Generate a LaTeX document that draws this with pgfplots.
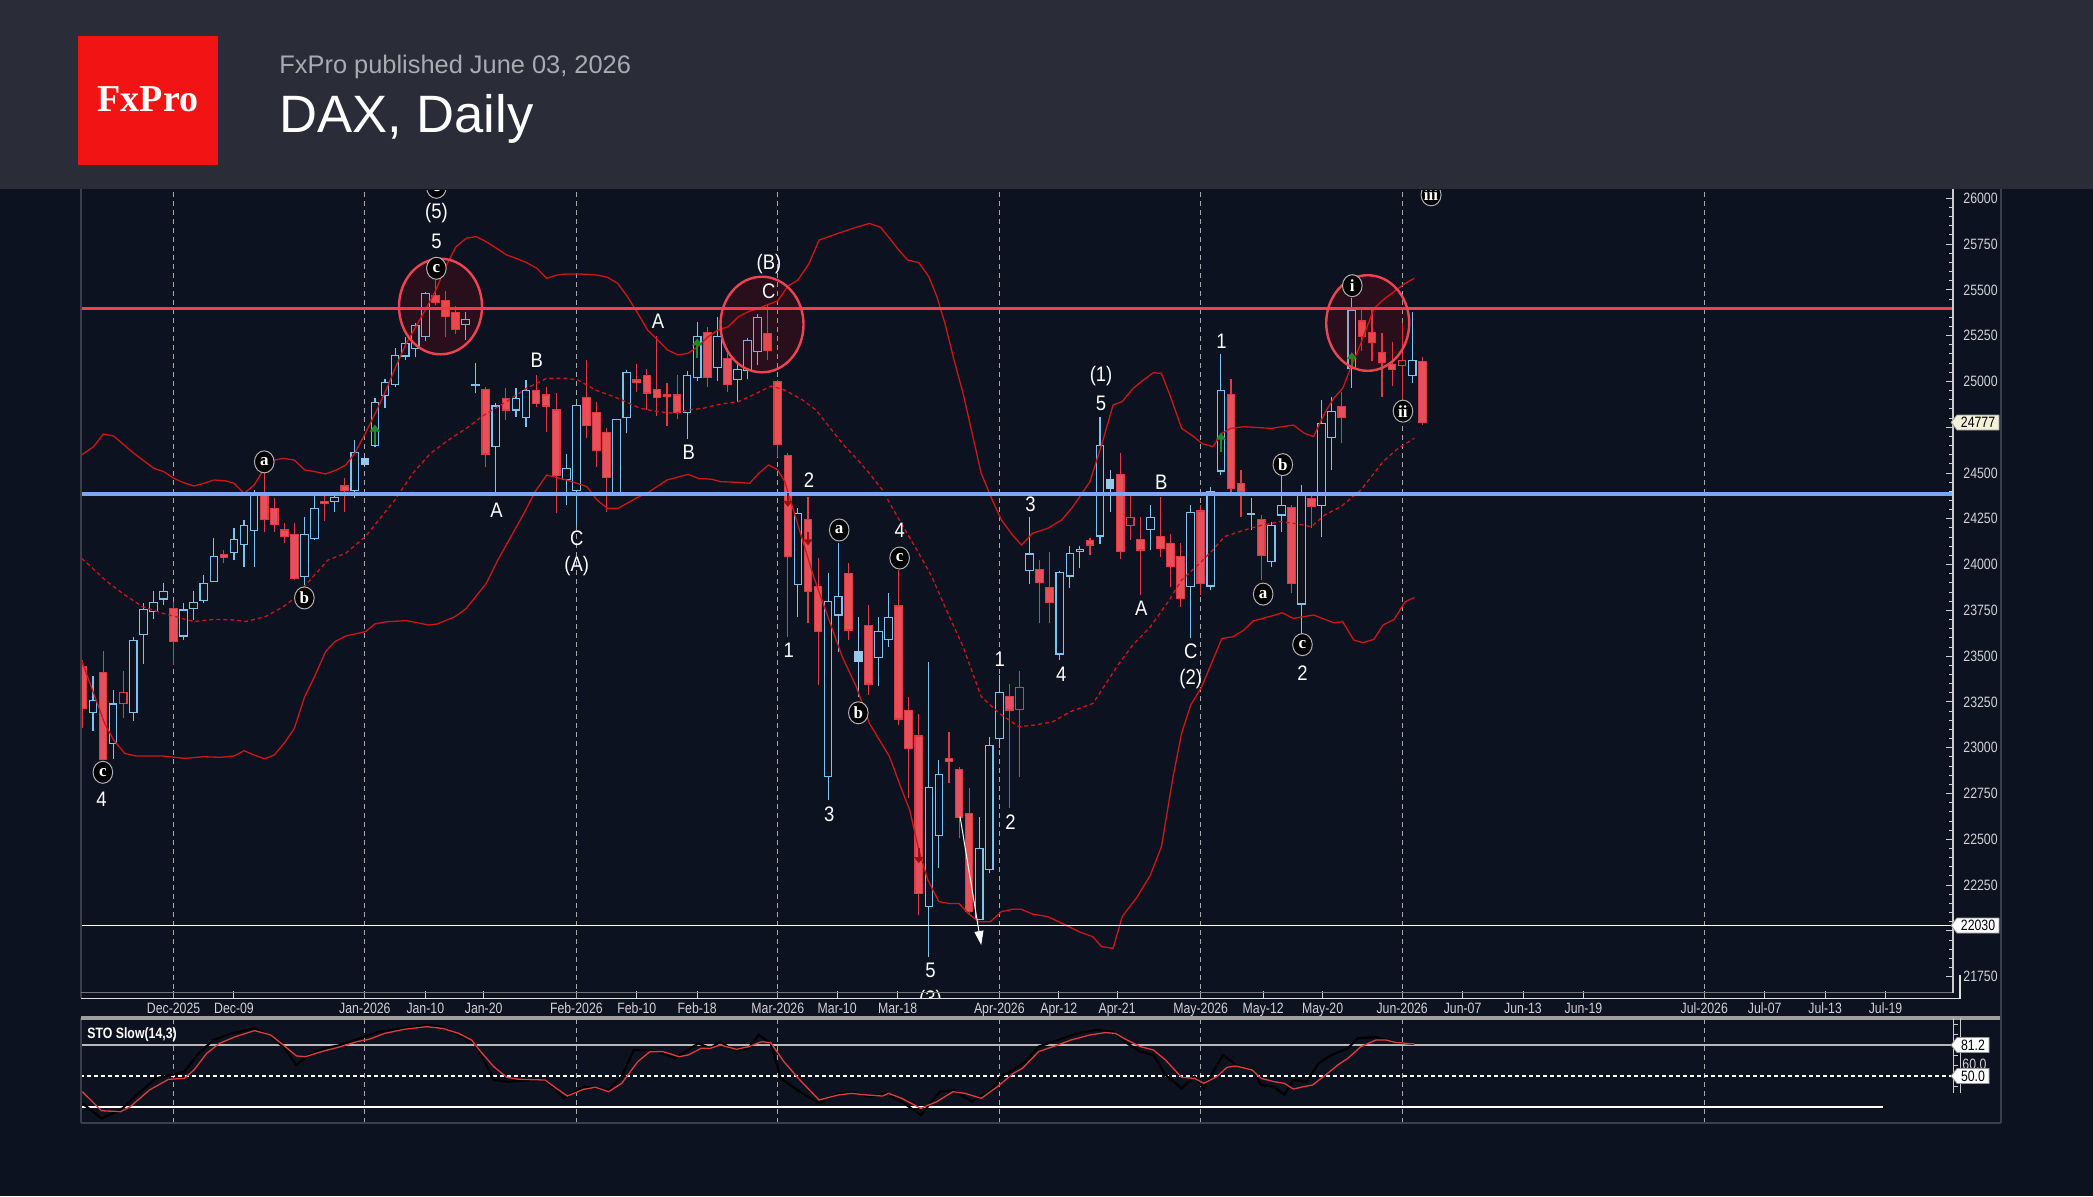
\documentclass[border=0pt]{standalone}
\usepackage{fontspec}
\setmainfont{Liberation Sans}
\newfontfamily\tickfont[FakeStretch=0.82]{Liberation Sans}
\newfontfamily\wavefont[FakeStretch=0.88]{Liberation Sans}
\newfontfamily\circfont{Liberation Serif}
\usepackage{pgfplots}
\usepackage{pgfplotstable}
\pgfplotsset{compat=1.18}
\usetikzlibrary{arrows.meta,shapes.geometric}

\definecolor{bgcol}{HTML}{0C1220}
\definecolor{headcol}{HTML}{2A2D38}
\definecolor{bullcol}{HTML}{7DC3F0}
\definecolor{bullfill}{HTML}{96C8EB}
\definecolor{bearcol}{HTML}{E6505A}
\definecolor{bearline}{HTML}{E23A45}
\definecolor{bandcol}{HTML}{D01515}
\definecolor{lvlred}{HTML}{F2414D}
\definecolor{lvlblue}{HTML}{7AA7F2}
\definecolor{ticktext}{HTML}{D2D2D2}
\definecolor{gridcol}{HTML}{A8A8A8}
\definecolor{logored}{HTML}{F21414}
\definecolor{subcol}{HTML}{A9ABB1}
\definecolor{arrowgreen}{HTML}{1E8C2A}
\definecolor{arrowred}{HTML}{9A1010}
\definecolor{circred}{HTML}{EE4452}
\definecolor{pricebox}{HTML}{F4F0DA}
\definecolor{stored}{HTML}{E03C3C}
\definecolor{framegray}{HTML}{3A3F4A}

\newcommand\tickfs{\tickfont\fontsize{7.5}{9}\selectfont}

\pgfplotsset{
  bullw/.style={draw=bullcol, line width=0.55pt},
  bearw/.style={draw=bearline, line width=0.55pt},
  bullfw/.style={draw=bullfill, line width=0.55pt},
  bull/.style={draw=bullcol, fill=bgcol, line width=0.55pt},
  bear/.style={draw=bearline, fill=bearcol, line width=0.55pt},
  bearhollow/.style={draw=bearline, fill=bgcol, line width=0.55pt},
  bullfilled/.style={draw=bullfill, fill=bullfill, line width=0.55pt},
}
\tikzset{
  wave/.style={text=white, font=\wavefont\fontsize{10.5}{12}\selectfont, inner sep=0pt, anchor=center},
  circ/.style={ellipse, fill=black, draw=white!70!black, line width=0.5pt, minimum width=9.8pt, minimum height=11pt, inner sep=0pt, text=white, font=\circfont\bfseries\fontsize{8.5}{9}\selectfont},
}

% OHLC data: i = trading-day index (0 = 1 Dec 2025); t: 1 bull, 2 bear, 3 bear hollow, 4 bull filled
\pgfplotstableread{
i o h l c t
-9 23443 23480 23106 23215 2
-8 23193 23392 23091 23257 1
-7 23410 23528 22933 22938 2
-6 23024 23315 22938 23239 1
-5 23301 23419 23160 23242 3
-4 23193 23603 23148 23588 1
-3 23617 23788 23457 23757 1
-2 23743 23856 23703 23792 1
-1 23812 23898 23779 23852 1
0 23761 23798 23452 23579 2
1 23610 23789 23588 23752 1
2 23761 23858 23698 23792 1
3 23803 23943 23789 23898 1
4 23907 24143 23903 24043 1
5 24056 24080 24007 24038 2
6 24067 24198 24025 24138 1
7 24111 24244 23985 24213 1
8 24184 24407 23985 24380 1
9 24380 24517 24180 24247 2
10 24307 24362 24180 24220 2
11 24189 24225 24116 24153 2
12 24162 24225 23916 23925 2
13 23934 24262 23889 24162 1
14 24144 24380 24134 24307 1
15 24347 24380 24240 24335 2
16 24347 24398 24289 24366 1
17 24429 24471 24289 24407 2
18 24407 24680 24362 24611 1
19 24549 24590 24540 24580 4
20 24649 24908 24640 24884 1
21 24921 25012 24853 24993 1
22 24984 25181 24972 25144 1
23 25139 25245 25117 25208 1
24 25181 25317 25132 25305 1
25 25245 25490 25223 25481 1
26 25468 25554 25420 25430 2
27 25441 25494 25245 25354 2
28 25377 25412 25257 25285 2
29 25312 25381 25226 25339 1
30 24978 25099 24935 24984 1
31 24957 24971 24531 24604 2
32 24644 24881 24389 24866 1
33 24908 24963 24790 24844 2
34 24844 24963 24808 24908 1
35 24804 25008 24750 24953 1
36 24950 25035 24862 24881 2
37 24926 24968 24726 24866 2
38 24844 24935 24280 24489 2
39 24467 24604 24325 24526 1
40 24407 24877 24216 24871 1
41 24910 25119 24690 24762 2
42 24830 24890 24535 24622 2
43 24721 24744 24289 24475 2
44 24389 24793 24389 24790 1
45 24802 25061 24717 25049 1
46 25008 25097 24944 24995 2
47 25032 25069 24844 24937 2
48 24958 25250 24812 24912 2
49 24926 24994 24757 24916 2
50 24926 25033 24793 24830 2
51 24833 25059 24684 25031 1
52 25024 25322 25004 25247 1
53 25266 25299 24972 25024 2
54 25074 25351 25004 25247 1
55 25126 25185 24944 24981 2
56 25012 25097 24890 25063 1
57 25058 25235 25012 25222 1
58 25163 25370 25092 25351 1
59 25261 25417 25117 25168 2
60 24999 25008 24589 24657 2
61 24598 24607 23606 24043 2
62 23889 24307 23716 24280 1
63 24244 24371 23679 23852 2
64 23880 24034 23343 23634 2
65 22842 23952 22715 23798 1
66 23725 24116 23525 23825 1
67 23952 24007 23588 23643 2
68 23470 23716 23279 23525 4
69 23670 23779 23288 23348 2
70 23492 23716 23337 23634 1
71 23592 23843 23552 23712 1
72 23774 23971 23124 23157 2
73 23202 23279 22724 22997 2
74 23064 23184 22087 22205 2
75 22132 23470 21859 22782 1
76 22523 22933 22342 22855 1
77 22942 23088 22806 22924 2
78 22882 22897 22505 22620 2
79 22642 22778 22087 22105 2
80 22063 22624 22059 22451 1
81 22336 23060 22314 23011 1
82 23051 23397 22997 23302 1
83 23282 23348 22669 23206 2
84 23328 23419 22842 23211 3
85 23967 24262 23894 24058 1
86 23974 24025 23679 23903 2
87 23876 24071 23679 23794 2
88 23512 23967 23479 23956 1
89 23938 24102 23870 24062 1
90 24071 24102 23980 24084 1
91 24131 24144 24053 24107 2
92 24156 24808 24113 24648 1
93 24417 24517 24289 24466 4
94 24493 24611 24029 24071 2
95 24256 24389 24134 24216 3
96 24138 24258 23834 24080 2
97 24194 24326 24080 24258 1
98 24153 24371 24043 24089 2
99 24113 24167 23879 23992 2
100 24043 24116 23770 23816 2
101 23879 24325 23597 24284 1
102 24293 24325 23834 23898 2
103 23883 24426 23861 24398 1
104 24511 25150 24489 24950 1
105 24930 25013 24398 24416 2
106 24444 24517 24262 24398 2
107 24275 24362 24189 24280 1
108 24244 24271 23916 24052 2
109 24016 24235 23989 24216 1
110 24271 24489 24180 24325 1
111 24311 24325 23843 23898 2
112 23785 24435 23621 24380 1
113 24362 24389 24198 24316 2
114 24322 24899 24153 24771 1
115 24695 24917 24517 24835 1
116 24862 24944 24662 24804 2
117 25072 25454 24965 25390 1
118 25330 25390 25168 25244 2
119 25268 25390 25112 25214 2
120 25159 25266 24917 25102 2
121 25094 25217 24974 25063 2
122 25115 25317 24899 25088 3
123 25035 25381 24990 25115 1
124 25108 25135 24762 24777 2
}\ohlc
\pgfplotstablegetrowsof{\ohlc}
\pgfmathtruncatemacro{\lastrow}{\pgfplotsretval-1}

\begin{document}
\begin{tikzpicture}
\path[use as bounding box] (0,0) rectangle (1046.5pt,-598pt);
\fill[bgcol] (0,0) rectangle (1046.5pt,-598pt);

% ---------------- main price panel ----------------
\begin{axis}[
  at={(40.5pt,-499pt)}, anchor=south west,
  scale only axis, width=936pt, height=404pt,
  xmin=-9.19, xmax=176.7, ymin=21633.6, ymax=26045.3,
  axis line style={draw=none},
  scaled ticks=false,
  tick align=inside,
  xtick pos=left, ytick pos=right, yticklabel pos=right,
  tick style={draw=white!82!black, line width=0.5pt},
  major tick length=3.5pt, minor tick length=1.8pt,
  xtick={0,6,19,25,30.8,40,46,52,60,65.9,71.9,82,87.9,93.7,102,108.2,114.1,122,128,134,140,152,158,164,170},
  xticklabels={Dec-2025,Dec-09,Jan-2026,Jan-10,Jan-20,Feb-2026,Feb-10,Feb-18,Mar-2026,Mar-10,Mar-18,Apr-2026,Apr-12,Apr-21,May-2026,May-12,May-20,Jun-2026,Jun-07,Jun-13,Jun-19,Jul-2026,Jul-07,Jul-13,Jul-19},
  ytick={21750,22000,22250,22500,22750,23000,23250,23500,23750,24000,24250,24500,24750,25000,25250,25500,25750,26000},
  yticklabels={21750,{},22250,22500,22750,23000,23250,23500,23750,24000,24250,24500,{},25000,25250,25500,25750,26000},
  minor y tick num=4,
  xticklabel style={font=\tickfs, text=ticktext, anchor=north, inner sep=0pt, yshift=-2.3pt},
  yticklabel style={font=\tickfs, text=ticktext, anchor=west, inner sep=0pt, xshift=5pt},
  extra x ticks={0,19,40,60,82,102,122,152},
  extra x tick labels={},
  extra x tick style={grid=major, major tick length=0pt},
  major grid style={draw=gridcol, line width=0.5pt, dash pattern=on 2.5pt off 2pt},
]
% candles: wick line + body polygon, read row by row from the table
\pgfplotsforeachungrouped \rowidx in {0,...,\lastrow}{%
  \pgfplotstablegetelem{\rowidx}{i}\of\ohlc\edef\CaI{\pgfplotsretval}%
  \pgfplotstablegetelem{\rowidx}{o}\of\ohlc\edef\CaO{\pgfplotsretval}%
  \pgfplotstablegetelem{\rowidx}{h}\of\ohlc\edef\CaH{\pgfplotsretval}%
  \pgfplotstablegetelem{\rowidx}{l}\of\ohlc\edef\CaL{\pgfplotsretval}%
  \pgfplotstablegetelem{\rowidx}{c}\of\ohlc\edef\CaC{\pgfplotsretval}%
  \pgfplotstablegetelem{\rowidx}{t}\of\ohlc\edef\CaT{\pgfplotsretval}%
  \pgfmathsetmacro\CaXa{\CaI-0.375}%
  \pgfmathsetmacro\CaXb{\CaI+0.375}%
  \ifcase\CaT\relax\def\Cst{bull}\def\Cw{bullw}\or\def\Cst{bull}\def\Cw{bullw}\or\def\Cst{bear}\def\Cw{bearw}\or\def\Cst{bearhollow}\def\Cw{bearw}\or\def\Cst{bullfilled}\def\Cw{bullfw}\fi
  \ifnum\CaC<\CaO\relax\edef\CaLQ{\CaC}\edef\CaUQ{\CaO}\else\edef\CaLQ{\CaO}\edef\CaUQ{\CaC}\fi
  \edef\Catmp{\noexpand\addplot[\Cw] coordinates {(\CaI,\CaL) (\CaI,\CaH)};
    \noexpand\addplot[\Cst] coordinates {(\CaXa,\CaLQ) (\CaXb,\CaLQ) (\CaXb,\CaUQ) (\CaXa,\CaUQ)} -- cycle;}%
  \Catmp
}
% Bollinger bands
\addplot[bandcol, line width=0.65pt] coordinates {(-9.14,24599) (-7.94,24644) (-6.97,24713) (-5.95,24702) (-3.95,24608) (-1.96,24526) (-0.98,24508) (0.03,24471) (1.01,24447) (2.03,24429) (3.01,24444) (4.02,24462) (5.13,24458) (6.02,24444) (7.0,24389) (8.01,24435) (9.12,24535) (10.0,24571) (10.89,24580) (12.0,24571) (13.02,24517) (14.0,24508) (15.1,24495) (16.2,24517) (17.1,24544) (17.99,24608) (19.05,24717) (20.03,24826) (21.1,24953) (22.07,25081) (23.1,25208) (24.06,25299) (25.08,25399) (26.05,25499) (27.03,25627) (28.05,25736) (29.07,25782) (30.04,25791) (31.05,25763) (32.08,25727) (33.06,25691) (34.04,25672) (35.06,25649) (36.08,25618) (37.05,25563) (38.07,25581) (39.04,25587) (40.06,25587) (41.08,25585) (42.05,25581) (43.08,25569) (44.1,25536) (45.07,25463) (46.1,25372) (47.07,25281) (48.09,25226) (49.06,25172) (50.08,25145) (51.1,25154) (52.08,25190) (53.1,25245) (54.07,25281) (55.09,25299) (56.1,25354) (57.08,25381) (58.1,25399) (58.9,25417) (60.0,25440) (61.0,25520) (62.0,25554) (63.12,25645) (64.1,25772) (66.0,25809) (67.8,25842) (69.1,25863) (70.2,25842) (71.1,25782) (72.0,25718) (72.9,25663) (74.0,25649) (75.0,25572) (75.8,25463) (76.6,25317) (77.5,25117) (78.4,24935) (79.3,24717) (80.2,24498) (81.3,24353) (82.2,24244) (83.3,24162) (84.2,24107) (85.3,24171) (86.8,24198) (88.2,24244) (89.3,24316) (91.0,24453) (92.2,24662) (93.3,24872) (94.2,24890) (95.3,24963) (96.1,24999) (97.3,25048) (98.1,25044) (99.0,24917) (100.1,24744) (101.3,24699) (102.1,24662) (103.2,24644) (104.1,24717) (105.0,24744) (106.3,24753) (109.0,24744) (111.2,24762) (112.3,24717) (113.2,24699) (114.3,24826) (115.2,24908) (116.1,24963) (117.0,25090) (117.9,25208) (119.2,25399) (120.3,25454) (121.4,25499) (122.3,25536) (123.2,25563)};
\addplot[bandcol, line width=0.65pt, dash pattern=on 2pt off 1.5pt] coordinates {(-9.14,24034) (-8.2,23989) (-6.8,23916) (-5.06,23843) (-3.07,23770) (-1.07,23734) (2.03,23689) (4.02,23701) (6.02,23698) (7.13,23689) (9.12,23716) (10.89,23770) (12.0,23816) (13.02,23883) (14.0,23943) (15.33,24025) (17.1,24062) (19.05,24153) (20.65,24262) (21.98,24353) (23.75,24498) (25.52,24608) (27.3,24680) (29.07,24744) (30.84,24817) (33.06,24890) (35.06,24963) (37.05,25017) (39.04,25017) (40.15,25008) (41.92,24953) (44.14,24908) (46.36,24853) (48.13,24835) (49.9,24826) (51.1,24844) (52.56,24853) (54.33,24877) (56.1,24890) (57.87,24935) (59.35,24975) (60.7,24953) (62.45,24899) (63.8,24844) (65.1,24753) (66.4,24662) (67.8,24580) (69.1,24498) (70.4,24407) (71.5,24298) (72.65,24189) (74.0,24062) (75.3,23934) (76.6,23770) (78.4,23552) (80.2,23279) (82.0,23188) (83.95,23115) (85.5,23124) (87.3,23142) (89.05,23197) (91.3,23242) (92.6,23352) (93.9,23461) (95.25,23561) (97.0,23661) (98.8,23800) (100.1,23916) (101.9,24007) (103.2,24080) (104.35,24153) (106.35,24189) (108.1,24216) (109.9,24235) (111.2,24226) (113.0,24207) (114.3,24271) (115.9,24316) (117.9,24407) (120.1,24562) (121.4,24626) (123.2,24690)};
\addplot[bandcol, line width=0.65pt] coordinates {(-9.14,23479) (-8.17,23333) (-6.84,23133) (-5.95,23042) (-4.84,22969) (-3.73,22955) (-1.07,22955) (1.14,22942) (2.92,22951) (4.69,22948) (6.02,22955) (7.0,22984) (8.01,22960) (9.03,22940) (10.0,22960) (11.1,23033) (12.0,23106) (13.02,23279) (14.0,23388) (15.1,23525) (16.0,23579) (17.1,23610) (19.05,23634) (20.0,23676) (21.1,23688) (23.1,23694) (24.2,23683) (25.3,23670) (26.2,23676) (27.96,23716) (29.07,23761) (31.06,23898) (32.2,24025) (34.8,24280) (35.9,24398) (37.05,24489) (39.04,24462) (40.06,24444) (41.04,24426) (42.05,24353) (43.08,24307) (44.14,24307) (45.9,24362) (47.24,24398) (49.0,24462) (49.9,24475) (51.1,24493) (52.1,24471) (53.45,24466) (54.33,24453) (56.1,24449) (57.2,24444) (58.1,24498) (59.1,24544) (60.0,24517) (60.7,24453) (63.56,23934) (65.1,23697) (66.4,23497) (67.8,23333) (69.1,23133) (71.1,22951) (72.2,22787) (73.1,22660) (74.0,22442) (74.9,22278) (76.0,22160) (77.0,22150) (78.0,22150) (78.9,22096) (79.97,22050) (81.1,22050) (82.2,22105) (83.3,22118) (84.2,22118) (85.3,22092) (86.8,22078) (88.6,22032) (89.9,21996) (91.3,21968) (92.15,21914) (93.3,21905) (94.2,22078) (95.7,22187) (97.0,22305) (98.1,22460) (99.25,22842) (100.1,23079) (101.0,23233) (102.1,23333) (103.2,23479) (104.1,23597) (105.2,23606) (106.3,23643) (107.2,23692) (109.0,23719) (110.1,23737) (111.2,23706) (113.2,23725) (115.2,23683) (116.1,23688) (117.2,23588) (118.1,23574) (119.2,23592) (120.1,23670) (121.2,23701) (122.3,23797) (123.2,23821)};
% level lines
\addplot[lvlred, line width=1.7pt] coordinates {(-10,25400) (178,25400)};
\addplot[lvlblue, line width=1.7pt] coordinates {(-10,24385) (178,24385)};
\addplot[white, line width=0.7pt] coordinates {(-10,22030) (178,22030)};
% signal arrows
\addplot[arrowgreen, line width=1.2pt, -{Triangle[length=3.5pt,width=5pt]}] coordinates {(20,24655) (20,24765)};
\addplot[arrowgreen, line width=1.2pt, -{Triangle[length=3.5pt,width=5pt]}] coordinates {(52,25130) (52,25235)};
\addplot[arrowgreen, line width=1.2pt, -{Triangle[length=3.5pt,width=5pt]}] coordinates {(104,24615) (104,24720)};
\addplot[arrowgreen, line width=1.2pt, -{Triangle[length=3.5pt,width=5pt]}] coordinates {(117,25080) (117,25160)};
\addplot[arrowred, line width=1.1pt, -{Triangle[length=3pt,width=4.5pt]}] coordinates {(61,24390) (61,24315)};
\addplot[arrowred, line width=1.1pt, -{Triangle[length=3pt,width=4.5pt]}] coordinates {(63,24180) (63,24105)};
\addplot[arrowred, line width=1.1pt, -{Triangle[length=3pt,width=4.5pt]}] coordinates {(74,22450) (74,22370)};
\addplot[white, line width=0.5pt, -{Triangle[length=7pt,width=4.5pt]}] coordinates {(78.1,22624) (80.2,21923)};
\end{axis}

% highlight circles (pixel units)
\begin{scope}[x=0.5pt,y=-0.5pt]
\draw[circred, line width=1.2pt, fill=red, fill opacity=0.12] (440.5,306.5) ellipse [x radius=41.5, y radius=47.8];
\draw[circred, line width=1.2pt, fill=red, fill opacity=0.12] (762,324.5) ellipse [x radius=41.5, y radius=47.8];
\draw[circred, line width=1.2pt, fill=red, fill opacity=0.12] (1367.7,323) ellipse [x radius=41.5, y radius=47.8];
\end{scope}

% wave labels on an overlay axis with the same geometry
\begin{axis}[
  at={(40.5pt,-499pt)}, anchor=south west,
  scale only axis, width=936pt, height=404pt,
  xmin=-9.19, xmax=176.7, ymin=21633.6, ymax=26045.3,
  axis line style={draw=none}, xtick=\empty, ytick=\empty,
]
\begin{scope}
\clip (rel axis cs:0,0) rectangle (rel axis cs:1,1);
\node[wave] at (axis cs:-7.16,22717) {4};
\node[wave] at (axis cs:26.1,25917) {(5)};
\node[wave] at (axis cs:26.1,25764) {5};
\node[wave] at (axis cs:32.08,24299) {A};
\node[wave] at (axis cs:36.06,25115) {B};
\node[wave] at (axis cs:40.03,24146) {C};
\node[wave] at (axis cs:40.03,23993) {(A)};
\node[wave] at (axis cs:48.12,25326) {A};
\node[wave] at (axis cs:51.17,24612) {B};
\node[wave] at (axis cs:59.12,25640) {(B)};
\node[wave] at (axis cs:59.12,25494) {C};
\node[wave] at (axis cs:63.1,24459) {2};
\node[wave] at (axis cs:61.1,23533) {1};
\node[wave] at (axis cs:65.1,22637) {3};
\node[wave] at (axis cs:72.1,24189) {4};
\node[wave] at (axis cs:75.16,21784) {5};
\node[wave] at (axis cs:75.16,21625) {(3)};
\node[wave] at (axis cs:82.05,23483) {1};
\node[wave] at (axis cs:83.1,22593) {2};
\node[wave] at (axis cs:85.1,24328) {3};
\node[wave] at (axis cs:88.15,23402) {4};
\node[wave] at (axis cs:92.1,25027) {(1)};
\node[wave] at (axis cs:92.1,24882) {5};
\node[wave] at (axis cs:98.09,24452) {B};
\node[wave] at (axis cs:96.1,23759) {A};
\node[wave] at (axis cs:101.0,23526) {C};
\node[wave] at (axis cs:101.0,23373) {(2)};
\node[wave] at (axis cs:104.05,25217) {1};
\node[wave] at (axis cs:112.1,23410) {2};
\node[circ] at (axis cs:-7.02,22866) {c};
\node[circ] at (axis cs:9.01,24561) {a};
\node[circ] at (axis cs:12.99,23818) {b};
\node[circ] at (axis cs:26.1,26060) {c};
\node[circ] at (axis cs:26.1,25618) {c};
\node[circ] at (axis cs:66.1,24189) {a};
\node[circ] at (axis cs:68.0,23191) {b};
\node[circ] at (axis cs:72.1,24036) {c};
\node[circ] at (axis cs:110.15,24546) {b};
\node[circ] at (axis cs:108.2,23839) {a};
\node[circ] at (axis cs:112.1,23563) {c};
\node[circ] at (axis cs:117.05,25523) {i};
\node[circ] at (axis cs:122.08,24838) {ii};
\node[circ] at (axis cs:124.87,26019) {iii};
\end{scope}
\end{axis}

% ---------------- stochastic panel ----------------
\begin{axis}[
  at={(40.5pt,-561.5pt)}, anchor=south west,
  scale only axis, width=936pt, height=52.5pt,
  xmin=-9.19, xmax=176.7, ymin=4.5, ymax=106.1,
  axis line style={draw=none},
  xtick=\empty, ytick=\empty,
  extra x ticks={0,19,40,60,82,102,122,152},
  extra x tick labels={},
  extra x tick style={grid=major, major tick length=0pt},
  major grid style={draw=gridcol, line width=0.5pt, dash pattern=on 2.5pt off 2pt},
]
\addplot[white!72!black, line width=1.3pt] coordinates {(-10,80) (178,80)};
\addplot[white, line width=0.8pt, dash pattern=on 2pt off 1.5pt] coordinates {(-10,50) (178,50)};
\addplot[white, line width=0.9pt] coordinates {(-10,20) (169.7,20)};
\addplot[black, line width=1.1pt] coordinates {(-9.06,23.6) (-7.15,9.0) (-5.25,17.1) (-3.67,31.6) (-1.77,47.7) (-0.19,51.0) (1.08,54.2) (2.35,70.3) (3.93,84.8) (5.83,91.3) (8.05,96.1) (9.63,88.1) (10.9,78.4) (12.2,60.6) (13.4,70.3) (15.0,76.8) (16.6,80.0) (18.5,86.5) (20.4,92.9) (22.9,96.1) (25.1,99.4) (26.7,97.7) (28.6,88.1) (29.9,81.6) (30.8,65.5) (31.8,46.1) (33.1,44.5) (35.6,46.1) (36.9,46.1) (38.8,28.4) (40.7,39.6) (42.2,38.1) (43.2,36.4) (44.5,49.4) (45.7,75.2) (47.3,75.2) (48.6,72.0) (49.8,67.1) (52.1,81.6) (53.3,76.8) (54.3,83.2) (55.5,75.2) (57.1,76.8) (58.1,89.7) (59.3,81.6) (60.3,47.7) (62.2,34.8) (64.1,23.6) (66.0,33.2) (67.6,33.9) (69.2,30.0) (70.7,33.2) (72.3,25.2) (74.2,12.3) (76.1,34.8) (77.4,36.4) (79.3,25.2) (81.2,36.4) (82.1,49.4) (83.4,55.8) (84.6,63.9) (85.9,78.4) (87.8,84.8) (89.7,91.3) (91.6,94.5) (93.2,92.9) (94.7,81.6) (96.0,73.6) (97.3,70.3) (98.5,51.0) (100.1,38.1) (101.4,49.4) (102.3,38.1) (104.2,70.3) (105.5,60.6) (107.1,55.8) (108.0,41.3) (109.3,39.6) (110.3,31.6) (111.2,46.1) (112.5,44.5) (113.7,62.3) (115.0,70.3) (116.6,76.8) (117.6,86.5) (119.4,87.5) (120.4,84.8) (121.3,82.6) (123.2,81.0)};
\addplot[stored, line width=0.65pt] coordinates {(-9.06,34.8) (-7.15,16.4) (-5.25,15.5) (-4.3,20.3) (-2.4,36.4) (-0.5,46.8) (1.08,47.7) (2.02,55.8) (3.3,72.0) (4.56,81.6) (6.15,88.1) (8.05,93.9) (9.63,89.7) (10.9,80.0) (12.2,69.4) (13.1,68.7) (14.7,73.6) (16.6,78.4) (18.2,83.2) (19.4,85.5) (21.0,91.3) (22.9,95.2) (25.1,97.7) (26.7,96.1) (28.3,91.3) (29.6,84.8) (30.5,73.6) (31.8,59.0) (33.1,48.7) (34.3,46.8) (36.9,46.1) (37.8,39.6) (39.1,30.6) (40.7,37.1) (41.9,39.1) (43.2,34.8) (44.5,42.9) (46.1,63.9) (47.3,73.6) (48.6,73.6) (50.2,68.7) (51.1,70.3) (52.4,76.8) (53.3,76.8) (54.3,80.0) (55.9,75.8) (57.1,78.4) (58.4,83.2) (59.3,82.3) (60.6,63.9) (62.2,46.1) (64.1,26.8) (66.0,31.6) (67.3,33.2) (68.9,31.6) (70.4,30.6) (71.0,33.2) (72.3,28.4) (74.2,18.7) (75.8,25.2) (77.4,34.8) (78.6,33.2) (80.2,28.4) (81.8,39.6) (83.4,52.6) (84.3,57.4) (85.9,73.6) (87.8,80.0) (89.1,84.8) (91.0,89.7) (92.5,92.0) (93.5,91.3) (94.7,84.8) (96.0,78.4) (97.3,75.2) (98.5,65.5) (100.1,48.7) (101.4,47.7) (102.3,42.9) (103.6,49.4) (104.6,58.4) (105.5,59.7) (107.1,55.8) (108.0,47.7) (109.3,44.5) (110.3,42.9) (111.2,37.4) (112.2,39.6) (113.1,41.3) (114.4,51.0) (115.6,60.6) (116.6,67.1) (117.9,78.4) (119.4,84.8) (120.4,84.8) (121.3,82.6) (123.2,81.0)};
\end{axis}

% ---------------- frame, price tags, header (pixel units) ----------------
\begin{scope}[x=0.5pt,y=-0.5pt]
\draw[framegray, line width=0.6pt] (81,189) -- (81,998);
\draw[framegray, line width=0.6pt] (81,1018) -- (81,1123);
\draw[white!45!black, line width=0.5pt] (81,992.5) -- (1953,992.5);
\draw[white!88!black, line width=0.7pt] (81,998.5) -- (1960,998.5) -- (1960,975);
\draw[white!80!black, line width=0.6pt] (1953,189) -- (1953,992.5);
\draw[white!62!black, line width=1.6pt] (81,1018) -- (2001,1018);
\draw[framegray, line width=0.6pt] (2001,189) -- (2001,1123);
\draw[framegray, line width=0.6pt] (81,1123) -- (2001,1123);
\draw[white!80!black, line width=0.5pt] (1953,1018) -- (1953,1093);
\draw[white!80!black, line width=0.5pt] (1960,1018) -- (1960,1093);
\foreach \yy in {1024,1034,1045,1055,1065,1076,1086} {\draw[white!80!black, line width=0.5pt] (1953,\yy) -- (1958,\yy);}
\node[anchor=west, inner sep=0pt, text=white, font=\tickfs\bfseries] at (87,1035) {STO Slow(14,3)};
% price tags
\filldraw[fill=pricebox, draw=white!60!black, line width=0.4pt] (1951,422.3) -- (1957,415) -- (1999,415) -- (1999,430) -- (1957,430) -- cycle;
\node[inner sep=0pt, text=black, font=\tickfs] at (1978,422.5) {24777};
\filldraw[fill=white, draw=white!60!black, line width=0.4pt] (1951,925.4) -- (1957,918) -- (1999,918) -- (1999,933) -- (1957,933) -- cycle;
\node[inner sep=0pt, text=black, font=\tickfs] at (1978,925.6) {22030};
\node[anchor=west, inner sep=0pt, text=ticktext, font=\tickfs] at (1962,1064) {60.0};
\filldraw[fill=white, draw=white!60!black, line width=0.4pt] (1951,1045) -- (1957,1037.5) -- (1989,1037.5) -- (1989,1052.5) -- (1957,1052.5) -- cycle;
\node[inner sep=0pt, text=black, font=\tickfs] at (1973,1045.2) {81.2};
\filldraw[fill=white, draw=white!60!black, line width=0.4pt] (1951,1076) -- (1957,1068.5) -- (1989,1068.5) -- (1989,1083.5) -- (1957,1083.5) -- cycle;
\node[inner sep=0pt, text=black, font=\tickfs] at (1973,1076.2) {50.0};
% header
\fill[headcol] (0,0) rectangle (2093,189);
\fill[logored] (78,36) rectangle (218,165);
\node[anchor=base, inner sep=0pt, text=white, font=\circfont\bfseries\fontsize{19}{21}\selectfont] at (148,111.5) {FxPro};
\node[anchor=base west, inner sep=0pt, text=subcol, font=\fontsize{12.7}{14}\selectfont] at (279,73) {FxPro published June 03, 2026};
\node[anchor=base west, inner sep=0pt, text=white, font=\fontsize{26.3}{30}\selectfont] at (279,132) {DAX, Daily};
\end{scope}
\end{tikzpicture}
\end{document}
